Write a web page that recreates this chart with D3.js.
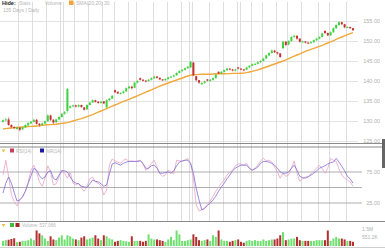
<!DOCTYPE html>
<html>
<head>
<meta charset="utf-8">
<script src="https://cdn.jsdelivr.net/npm/d3@7"></script>
<style>
  body { margin: 0; background: #fff; }
  svg { display: block; font-family: "Liberation Sans", Arial, sans-serif; }
</style>
</head>
<body>
<div id="chart"></div>
<script>
// daily prices, one entry per trading day
var openP = [129.8,130.2,130.4,129.0,128.5,128.0,128.3,127.9,128.4,128.9,
  129.4,129.8,130.3,129.3,129.0,129.4,129.9,131.4,130.3,129.7,
  130.4,131.0,131.8,132.5,133.3,133.7,133.9,133.6,134.0,133.4,
  132.9,134.0,134.6,135.2,134.8,134.5,134.9,133.4,135.2,135.6,
  137.7,137.3,136.8,137.0,137.4,138.2,138.6,138.3,139.6,140.7,
  140.3,140.1,140.0,140.3,140.7,141.1,140.8,140.4,140.2,140.5,
  140.9,141.1,141.4,142.0,142.5,142.8,143.2,143.4,144.6,141.2,
  140.2,139.2,139.5,140.4,140.0,140.3,140.7,142.3,141.9,142.3,
  142.7,143.1,142.9,142.6,143.4,143.1,142.9,142.8,143.4,143.8,
  144.2,144.3,144.7,145.0,145.6,146.4,147.0,147.6,147.2,146.9,
  148.2,149.8,149.1,150.0,151.0,151.3,150.6,149.8,149.9,149.6,
  149.5,149.7,150.2,150.6,151.0,152.5,152.0,151.4,152.2,153.2,
  154.0,154.7,154.2,153.4,153.5,153.2];
var closeP = [130.2,130.4,129.0,128.5,128.3,128.4,127.8,128.4,129.0,129.5,
  129.8,130.3,129.3,129.0,129.4,129.9,131.4,130.3,129.6,130.4,
  131.0,131.8,132.2,138.0,133.7,133.9,133.6,134.0,133.5,132.8,
  134.0,134.6,135.2,134.8,134.5,134.8,134.4,135.2,135.6,136.3,
  137.2,136.9,137.0,137.4,138.2,138.6,138.2,139.6,140.0,140.3,
  140.1,140.0,140.3,140.7,141.1,140.8,140.4,140.2,140.5,140.9,
  141.1,141.4,142.0,142.5,142.8,143.2,143.6,144.8,141.4,140.2,
  139.6,139.5,139.9,140.1,140.3,140.7,141.6,141.9,142.3,142.7,
  143.1,142.9,142.6,142.9,143.1,142.9,142.7,143.4,143.8,144.2,
  144.3,144.7,145.0,145.6,146.4,147.0,147.6,147.2,146.9,146.0,
  149.8,149.0,150.0,151.0,151.3,150.6,149.8,149.9,149.6,149.5,
  149.7,150.2,150.6,151.0,151.9,152.0,151.4,152.2,153.2,154.0,
  154.7,154.2,153.4,153.5,153.2,152.7];
var highP = [130.4,130.8,130.9,129.2,128.7,128.6,128.5,128.6,129.2,129.7,
  130.0,130.6,130.5,129.5,129.6,130.1,131.7,131.6,130.5,130.6,
  131.2,132.0,132.5,138.3,133.9,134.1,134.1,134.2,134.1,133.5,
  134.2,134.8,135.4,135.3,135.0,135.0,135.0,135.4,135.8,136.5,
  137.9,137.4,137.2,137.6,138.4,138.8,138.8,139.8,140.2,140.9,
  140.5,140.3,140.5,140.9,141.3,141.3,140.9,140.5,140.7,141.1,
  141.3,141.6,142.2,142.7,143.0,143.4,143.8,145.0,144.8,141.3,
  140.3,139.7,140.1,140.5,140.5,140.9,141.8,142.4,142.5,142.9,
  143.3,143.2,143.0,143.1,143.5,143.2,143.0,143.6,144.0,144.4,
  144.5,144.9,145.2,145.8,146.6,147.2,147.9,147.8,147.3,147.0,
  150.1,150.0,150.2,151.2,151.6,151.4,150.7,150.1,150.0,149.8,
  149.9,150.4,150.8,151.2,152.1,152.7,152.1,152.4,153.4,154.2,
  155.0,154.8,154.3,153.7,153.6,153.3];
var lowP = [129.6,130.0,128.8,128.2,128.0,127.8,127.4,127.7,128.2,128.8,
  129.2,129.6,129.1,128.6,128.8,129.2,129.8,130.0,129.3,129.5,
  130.2,130.8,131.6,132.1,133.1,133.5,133.4,133.4,133.3,132.6,
  132.8,133.9,134.5,134.6,134.3,134.3,134.2,133.2,135.0,135.5,
  137.0,136.7,136.6,136.8,137.3,138.0,137.9,138.2,139.4,140.1,
  139.9,139.7,139.8,140.1,140.5,140.6,140.2,140.0,140.0,140.3,
  140.8,140.9,141.3,141.9,142.3,142.6,143.0,143.2,141.2,139.9,
  139.3,139.0,139.3,139.9,139.8,140.1,140.6,141.7,141.7,142.1,
  142.5,142.7,142.4,142.4,142.9,142.7,142.4,142.7,143.2,143.6,
  144.0,144.1,144.5,144.9,145.5,146.2,146.8,147.0,146.6,145.8,
  148.0,148.7,148.9,149.8,150.8,150.3,149.6,149.6,149.4,149.2,
  149.3,149.5,150.0,150.4,150.9,151.8,151.2,151.3,152.0,153.0,
  153.8,154.0,153.2,153.2,153.0,152.5];
var smaP = [128.0,128.1,128.2,128.25,128.3,128.4,128.45,128.5,128.55,128.6,
  128.65,128.7,128.75,128.8,128.9,129.0,129.05,129.1,129.15,129.2,
  129.3,129.4,129.5,129.6,129.8,130.0,130.2,130.4,130.6,130.85,
  131.1,131.35,131.6,131.9,132.2,132.5,132.8,133.1,133.4,133.7,
  134.0,134.3,134.6,134.9,135.15,135.4,135.7,136.0,136.3,136.6,
  136.9,137.2,137.5,137.8,138.1,138.4,138.7,139.0,139.25,139.5,
  139.75,140.0,140.25,140.5,140.75,141.0,141.25,141.45,141.6,141.6,
  141.65,141.7,141.7,141.7,141.7,141.75,141.8,141.8,141.8,141.8,
  141.85,141.85,141.9,141.9,141.9,141.95,142.0,142.1,142.25,142.4,
  142.6,142.8,143.0,143.25,143.5,143.75,144.0,144.25,144.5,144.75,
  145.0,145.3,145.6,145.9,146.2,146.5,146.8,147.1,147.4,147.65,
  147.9,148.15,148.4,148.65,148.9,149.2,149.5,149.8,150.1,150.4,
  150.7,151.0,151.3,151.6,151.85,152.1];
var rsiA = [70,94,68,39,27,20,30,36,44,59,
  78,86,75,59,52,65,85,75,54,56,
  67,78,73,65,75,57,54,57,49,44,
  52,64,67,59,57,52,38,46,86,96,
  93,91,89,94,96,92,93,92,93,94,
  88,78,81,89,94,83,72,68,70,78,
  75,72,94,93,92,94,97,89,65,22,
  12,14,18,23,28,36,44,51,57,62,
  70,75,78,85,88,88,86,89,81,78,
  81,86,93,97,93,94,91,83,75,65,
  73,68,70,81,93,73,60,64,67,68,
  72,77,81,86,80,73,81,97,94,92,
  80,70,65,62,59,52];
var rsiB = [41,57,67,57,42,28,30,35,44,57,
  69,81,78,69,64,67,75,77,65,62,
  70,77,77,75,67,60,57,56,52,51,
  50,56,62,60,59,56,52,54,72,88,
  90,88,86,89,91,92,92,92,92,93,
  89,81,81,85,86,81,73,73,74,75,
  73,77,85,91,93,94,94,89,73,49,
  30,14,16,21,25,30,36,44,51,57,
  64,70,77,81,84,86,86,86,81,78,
  80,83,89,92,92,91,89,86,81,75,
  73,73,75,81,86,78,68,66,65,67,
  70,73,77,81,83,85,88,90,91,97,
  91,84,77,68,64,57];
var volume = [440,500,540,600,660,330,360,440,440,500,
  640,500,1330,1080,920,640,440,830,560,500,
  720,920,560,920,830,640,560,500,720,830,
  560,640,720,920,640,500,920,830,640,560,
  360,440,500,440,400,360,830,440,440,440,
  360,440,1000,640,560,560,500,440,360,560,
  780,500,1330,1000,440,440,500,560,1000,780,
  500,440,500,560,440,920,780,1330,560,440,
  440,360,440,500,560,360,280,440,500,440,
  500,440,440,560,440,500,560,560,640,920,
  1190,500,560,640,640,780,500,440,440,440,
  440,440,500,500,500,500,1330,440,640,780,
  640,640,560,440,440,360];
// week / month gridlines, in day positions
var gridDays = [5.5,10.5,15.5,20.5,21.5,25.5,30.5,35.5,39.5,44.5,47.5,53.5,58.5,63.5,
  66.5,67.5,73.5,78.5,83.5,84.5,88.5,92.5,97.5,101.5,106.5,112.5,116.5,122.5];
var priceTicks = [125,130,135,140,145,150,155];
var rsiLines = [75,50,25];
var rsiLabels = [75,25];
var volTicks = [1500,551.2];
var volTickText = ["1.5M","551.2K"];

var W = 385, H = 250;
var green = "#3ed23e", red = "#c8302f";

var svg = d3.select("#chart").append("svg")
    .attr("width", W).attr("height", H);

var x = d3.scaleLinear().domain([0, closeP.length - 1]).range([3, 353]);
var y = d3.scaleLinear().domain([125, 155]).range([141, 21]);
var yR = d3.scaleLinear().domain([0, 100]).range([218.5, 156.5]);
var yV = d3.scaleLinear().domain([0, 1500]).range([246, 228.5]);

// vertical gridlines through price and indicator panels
svg.append("g").selectAll("line").data(gridDays).join("line")
    .attr("x1", d => Math.round(x(d)) + 0.5).attr("x2", d => Math.round(x(d)) + 0.5)
    .attr("y1", 2).attr("y2", 221)
    .attr("stroke", "#d6d6d6").attr("stroke-width", 0.8);

// price grid + labels
svg.append("g").selectAll("line").data(priceTicks).join("line")
    .attr("x1", 0).attr("x2", 358)
    .attr("y1", d => y(d) + 0.5).attr("y2", d => y(d) + 0.5)
    .attr("stroke", "#dcdcdc").attr("stroke-width", 0.8);
svg.append("g").selectAll("text").data(priceTicks).join("text")
    .attr("x", 380).attr("y", d => y(d) + 2)
    .attr("text-anchor", "end").attr("font-size", 5.5).attr("fill", "#b0b0b0")
    .text(d => d3.format(".2f")(d));

// header texts
svg.append("text").attr("x", 2).attr("y", 5).attr("font-size", 5.5)
    .attr("font-weight", "bold").attr("fill", "#222").text("Hide:");
svg.append("text").attr("x", 19).attr("y", 5).attr("font-size", 5)
    .attr("fill", "#b5b5b5").text("Stats");
svg.append("text").attr("x", 45).attr("y", 5).attr("font-size", 5)
    .attr("fill", "#b5b5b5").text("Volume");
svg.append("rect").attr("x", 69).attr("y", 0.5).attr("width", 4.5).attr("height", 4.5)
    .attr("fill", "#f0a43a");
svg.append("text").attr("x", 76).attr("y", 5).attr("font-size", 5)
    .attr("fill", "#b5b5b5").text("SMA(20,20) 30");
svg.append("text").attr("x", 3).attr("y", 12).attr("font-size", 5)
    .attr("fill", "#b5b5b5").text("135 Days | Daily");

// SMA line
svg.append("path").datum(smaP)
    .attr("fill", "none").attr("stroke", "#f1a83a").attr("stroke-width", 1.4)
    .attr("d", d3.line().x((d, i) => x(i)).y(d => y(d)));

// candles
var candles = svg.append("g").selectAll("g").data(closeP).join("g")
    .attr("fill", (d, i) => d >= openP[i] ? green : red)
    .attr("stroke", (d, i) => d >= openP[i] ? green : red);
candles.append("line")
    .attr("x1", (d, i) => x(i)).attr("x2", (d, i) => x(i))
    .attr("y1", (d, i) => y(highP[i])).attr("y2", (d, i) => y(lowP[i]))
    .attr("stroke-width", 0.6);
candles.append("rect")
    .attr("x", (d, i) => x(i) - 1).attr("width", 2)
    .attr("y", (d, i) => y(Math.max(d, openP[i])))
    .attr("height", (d, i) => Math.max(1, Math.abs(y(d) - y(openP[i]))))
    .attr("stroke", "none");

// panel borders
svg.append("line").attr("x1", 0).attr("x2", 385).attr("y1", 143.5).attr("y2", 143.5)
    .attr("stroke", "#8a8a8a").attr("stroke-width", 1);
svg.append("line").attr("x1", 0).attr("x2", 385).attr("y1", 147).attr("y2", 147)
    .attr("stroke", "#8a8a8a").attr("stroke-width", 1);
svg.append("rect").attr("x", 382).attr("y", 139).attr("width", 3).attr("height", 29)
    .attr("fill", "#666");

// RSI panel
svg.append("g").selectAll("line").data(rsiLines).join("line")
    .attr("x1", 0).attr("x2", 362)
    .attr("y1", d => yR(d)).attr("y2", d => yR(d))
    .attr("stroke", "#9a9a9a").attr("stroke-width", 0.8);
svg.append("g").selectAll("text").data(rsiLabels).join("text")
    .attr("x", 380).attr("y", d => yR(d) + 2)
    .attr("text-anchor", "end").attr("font-size", 5.5).attr("fill", "#b0b0b0")
    .text(d => d3.format(".2f")(d));
svg.append("path").datum(rsiA)
    .attr("fill", "none").attr("stroke", "#eaa2c4").attr("stroke-width", 0.8)
    .attr("d", d3.line().x((d, i) => x(i)).y(d => yR(d)));
svg.append("path").datum(rsiB)
    .attr("fill", "none").attr("stroke", "#7d6fd6").attr("stroke-width", 0.8)
    .attr("d", d3.line().x((d, i) => x(i)).y(d => yR(d)));

// RSI legend
svg.append("path").attr("d", "M1.5,149.5 L5.5,149.5 L3.5,152.5 Z").attr("fill", "#e5c64a");
svg.append("rect").attr("x", 10).attr("y", 148.5).attr("width", 4).attr("height", 4).attr("fill", "#c8405e");
svg.append("text").attr("x", 16).attr("y", 152.5).attr("font-size", 4.5).attr("fill", "#b5b5b5").text("RSI(14)");
svg.append("rect").attr("x", 40).attr("y", 148.5).attr("width", 4).attr("height", 4).attr("fill", "#1a1aa8");
svg.append("text").attr("x", 46).attr("y", 152.5).attr("font-size", 4.5).attr("fill", "#b5b5b5").text("%R(14)");

// volume panel
svg.append("line").attr("x1", 0).attr("x2", 385).attr("y1", 221.5).attr("y2", 221.5)
    .attr("stroke", "#8a8a8a").attr("stroke-width", 1);
svg.append("g").selectAll("rect").data(volume).join("rect")
    .attr("x", (d, i) => x(i) - 1).attr("width", 2)
    .attr("y", d => yV(d)).attr("height", d => yV(0) - yV(d))
    .attr("fill", (d, i) => closeP[i] >= openP[i] ? "#6fe06f" : "#b23030");
svg.append("line").attr("x1", 0).attr("x2", 385).attr("y1", 247.5).attr("y2", 247.5)
    .attr("stroke", "#cfcfcf").attr("stroke-width", 1);
svg.append("g").selectAll("text").data(volTicks).join("text")
    .attr("x", 362).attr("y", (d, i) => i === 0 ? yV(d) + 2 : yV(d) - 1)
    .attr("font-size", 5).attr("fill", "#b0b0b0")
    .text((d, i) => volTickText[i]);

// volume legend
svg.append("path").attr("d", "M1.5,224 L5.5,224 L3.5,227 Z").attr("fill", "#e5c64a");
svg.append("rect").attr("x", 10).attr("y", 223).attr("width", 4).attr("height", 4).attr("fill", "#3cbf3c");
svg.append("rect").attr("x", 15.5).attr("y", 223).attr("width", 4).attr("height", 4).attr("fill", "#a82424");
svg.append("text").attr("x", 22).attr("y", 227).attr("font-size", 4.5).attr("fill", "#b5b5b5").text("Volume: 537,066");
</script>
</body>
</html>
